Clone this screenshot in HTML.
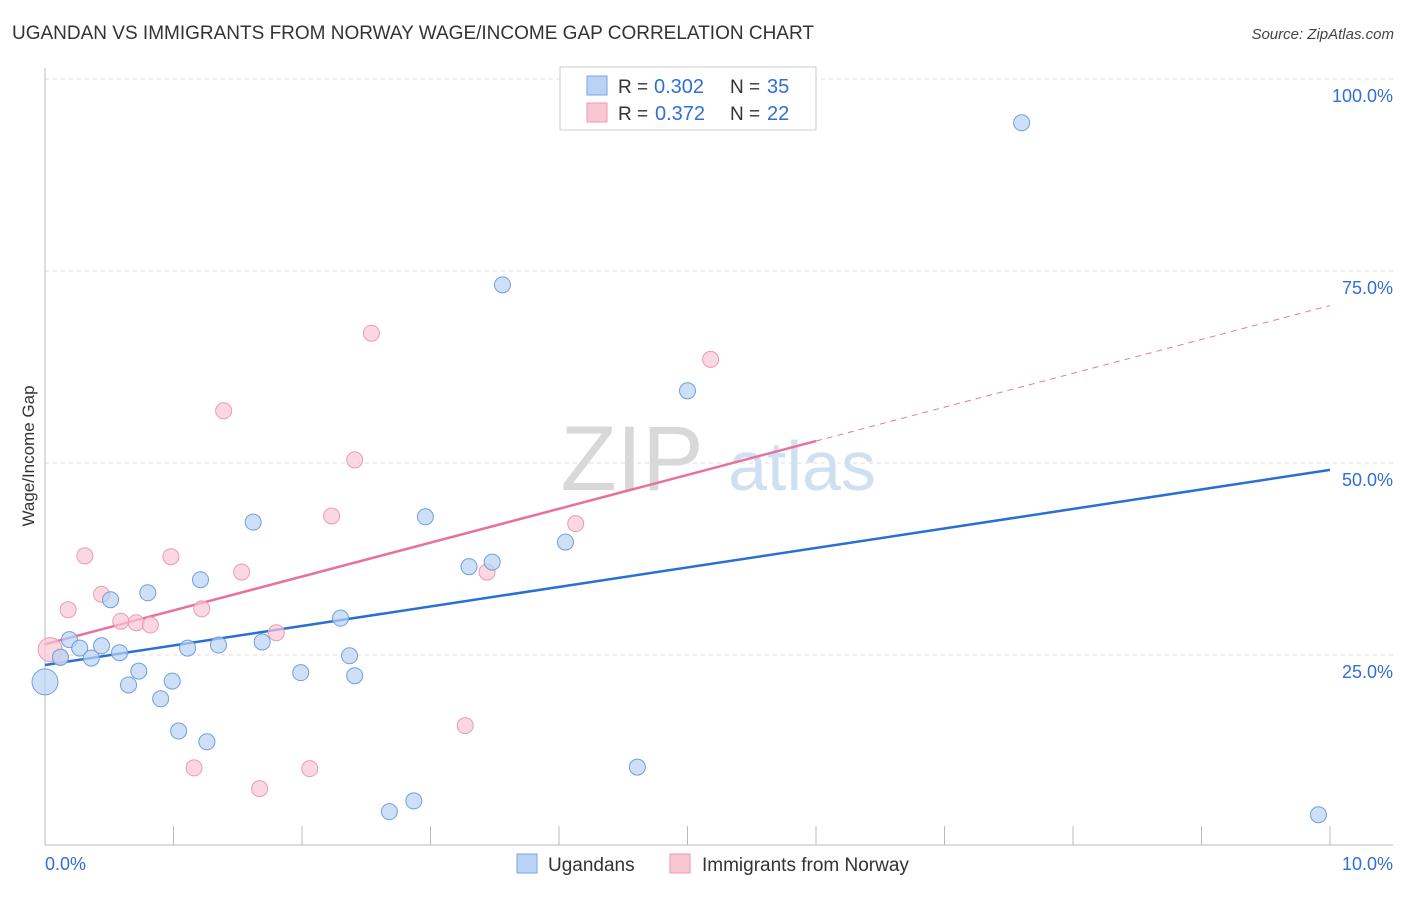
<!DOCTYPE html>
<html><head><meta charset="utf-8"><style>
body{margin:0;background:#fff;font-family:"Liberation Sans",sans-serif;}
svg text{font-family:"Liberation Sans",sans-serif;}
</style></head><body>
<svg id="chart" width="1406" height="892" xmlns="http://www.w3.org/2000/svg">
<text x="12" y="39" font-size="19" fill="#333">UGANDAN VS IMMIGRANTS FROM NORWAY WAGE/INCOME GAP CORRELATION CHART</text>
<text x="1394" y="39" font-size="15" fill="#444" text-anchor="end" font-style="italic">Source: ZipAtlas.com</text>
<g>
<text x="632" y="490" font-size="92" fill="#d8d8d8" text-anchor="middle" font-family="Liberation Serif">ZIP</text>
<text x="802" y="490" font-size="70" fill="#cfe0f3" text-anchor="middle">atlas</text>
</g>
<g id="grid"></g>
<g id="axes"></g>
<text transform="translate(34,456) rotate(-90)" font-size="17" fill="#333" text-anchor="middle">Wage/Income Gap</text>
<g id="lines"></g>
<g id="points"></g>
<g>
<rect x="560" y="67" width="256" height="63" fill="#fff" stroke="#ccc"/>
<rect x="587" y="76" width="20" height="19" fill="#b8d3f5" stroke="#7aa6e0"/>
<rect x="587" y="103" width="20" height="19" fill="#f9c6d4" stroke="#eb9bb3"/>
<text x="618" y="93" font-size="19" fill="#333">R =</text>
<text x="654" y="93" font-size="20" fill="#2f6fd6">0.302</text>
<text x="730" y="93" font-size="19" fill="#333">N =</text>
<text x="767" y="93" font-size="20" fill="#2f6fd6">35</text>
<text x="618" y="120" font-size="19" fill="#333">R =</text>
<text x="655" y="120" font-size="20" fill="#2f6fd6">0.372</text>
<text x="730" y="120" font-size="19" fill="#333">N =</text>
<text x="767" y="120" font-size="20" fill="#2f6fd6">22</text>
</g>
<g>
<rect x="517" y="854" width="20" height="19" fill="#b8d3f5" stroke="#7aa6e0"/>
<text x="548" y="871" font-size="19" fill="#333">Ugandans</text>
<rect x="670" y="854" width="20" height="19" fill="#f9c6d4" stroke="#eb9bb3"/>
<text x="702" y="871" font-size="19" fill="#333">Immigrants from Norway</text>
</g>
</svg>
<script>
const blueX=[0.00,0.12,0.19,0.27,0.36,0.44,0.51,0.58,0.65,0.73,0.80,0.90,0.99,1.04,1.11,1.21,1.26,1.35,1.62,1.69,1.99,2.30,2.37,2.41,2.68,2.87,2.96,3.30,3.48,3.56,4.05,4.61,5.00,7.60,9.91];
const blueY=[21.5,24.7,27.0,25.9,24.6,26.2,32.2,25.3,21.1,22.9,33.1,19.3,21.6,15.1,25.9,34.8,13.7,26.3,42.3,26.7,22.7,29.8,24.9,22.3,4.6,6.0,43.0,36.5,37.1,73.2,39.7,10.4,59.4,94.3,4.2];
const pinkX=[0.04,0.12,0.18,0.31,0.44,0.59,0.71,0.82,0.98,1.16,1.22,1.39,1.53,1.67,1.80,2.06,2.23,2.41,2.54,3.27,3.44,4.13,5.18];
const pinkY=[25.7,24.7,30.9,37.9,32.9,29.4,29.2,28.9,37.8,10.3,31.0,56.8,35.8,7.6,27.9,10.2,43.1,50.4,66.9,15.8,35.8,42.1,63.5];
const blueTrend=[23.7,49.1];
const pinkTrend=[26.4,70.5];
const pinkSolidEnd=6.0;
const yTicks=[25,50,75,100];
const yTickLabels=["25.0%","50.0%","75.0%","100.0%"];
const xTicks=[0,1,2,3,4,5,6,7,8,9,10];
const xEndLabels=["0.0%","10.0%"];

const NS="http://www.w3.org/2000/svg";
const sx=v=>45+v*128.5;
const sy=v=>847-v*7.68;
function mk(tag,attrs,parent){const e=document.createElementNS(NS,tag);for(const k in attrs)e.setAttribute(k,attrs[k]);parent.appendChild(e);return e;}
const grid=document.getElementById('grid'),axes=document.getElementById('axes'),lines=document.getElementById('lines'),pts=document.getElementById('points');
yTicks.forEach((t,i)=>{
  const l=mk('line',{x1:45,x2:1393,y1:sy(t),y2:sy(t),stroke:'#ddd','stroke-dasharray':'4,4'},grid);
  
  
  const tx=mk('text',{x:1393,y:sy(t)+23,'font-size':18,fill:'#2f6fd6','text-anchor':'end'},axes);
  tx.textContent=yTickLabels[i];
  
  
});
const xa=mk('line',{x1:45,x2:1393,y1:845,y2:845,stroke:'#bbb'},axes);


const ya=mk('line',{x1:45,x2:45,y1:68,y2:845,stroke:'#bbb'},axes);


xTicks.forEach(t=>{
  const l=mk('line',{x1:sx(t),x2:sx(t),y1:826,y2:845,stroke:'#bbb'},axes);
  
  
});
const xl0=mk('text',{x:45,y:870,'font-size':18,fill:'#2f6fd6'},axes);xl0.textContent=xEndLabels[0];


const xl1=mk('text',{x:1393,y:870,'font-size':18,fill:'#2f6fd6','text-anchor':'end'},axes);xl1.textContent=xEndLabels[1];



function circ(x,y,fill,stroke,name,r){
  const c=mk('circle',{cx:sx(x),cy:sy(y),r:r,fill:fill,stroke:stroke,'stroke-width':1,'fill-opacity':0.7},pts);
  
  
}
pinkX.forEach((x,i)=>circ(x,pinkY[i],'#f9c6d4','#eb9bb3','point-norway',i===0?12:8));
blueX.forEach((x,i)=>circ(x,blueY[i],'#b8d3f5','#6f9fdc','point-ugandans',i===0?13:8));

const pm=pinkTrend[0]+(pinkTrend[1]-pinkTrend[0])*pinkSolidEnd/10;
const pd=mk('line',{x1:sx(pinkSolidEnd),y1:sy(pm),x2:sx(10),y2:sy(pinkTrend[1]),stroke:'#e87a9c','stroke-width':1,'stroke-dasharray':'6,5'},lines);


const ps=mk('line',{x1:sx(0),y1:sy(pinkTrend[0]),x2:sx(pinkSolidEnd),y2:sy(pm),stroke:'#e8719a','stroke-width':2.5},lines);


const bl=mk('line',{x1:sx(0),y1:sy(blueTrend[0]),x2:sx(10),y2:sy(blueTrend[1]),stroke:'#2a6fd6','stroke-width':2.5},lines);


</script>
</body></html>
